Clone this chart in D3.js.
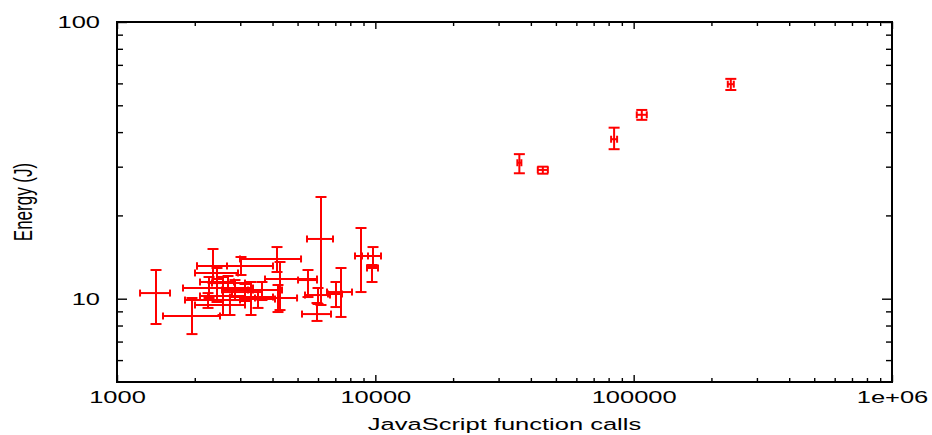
<!DOCTYPE html>
<html><head><meta charset="utf-8">
<script src="https://cdn.jsdelivr.net/npm/d3@7"></script>
<style>
body{margin:0;background:#fff}
svg{display:block}
text{font-family:"Liberation Sans",Arial,Helvetica,sans-serif}
</style>
</head><body>
<svg id="c" width="932" height="435"></svg>
<script>
// ---- data ----
const calls      = [1416,1951,2353,4163,2438,3020,2271,2572,3302,4276,4200,6161,5487,6000,5946,7364,7042,8801,9795,9708,2251,2737,3130,3514,3641,2862,2690,2438,36100,44500,84000,107500,237700];
const callsLow   = [1228,1507,2040,2993,2004,2040,1801,2096,2737,3740,3421,5438,5021,5342,5202,6500,6559,8342,8880,9285,1833,2004,2787,2993,3215,2550,2332,2096,35460,42550,81790,102800,231400];
const callsHigh  = [1604,2504,2666,5157,2940,4017,3361,3130,4017,5946,4977,6858,5946,6676,6736,8122,7430,9368,10517,10240,2993,3130,3641,4089,4353,3361,3130,2837,36750,46540,86270,112400,244100];
const energy     = [10.48,8.66,13.13,13.92,12.39,13.13,10.93,10.23,10.14,11.78,10.06,16.44,11.68,10.31,8.80,10.57,10.40,14.27,14.27,12.91,9.89,9.49,10.57,9.97,10.75,10.75,11.39,11.49,31.0,29.2,37.7,46.2,59.6];
const energyLow  = [8.10,7.45,11.39,12.49,11.39,12.18,10.06,8.73,8.73,9.10,8.95,9.49,10.14,9.57,8.31,8.59,9.33,10.57,13.02,11.49,9.26,8.73,9.81,9.26,9.89,9.89,10.57,9.73,28.4,28.3,34.7,44.3,56.8];
const energyHigh = [12.70,10.06,15.12,15.37,12.91,14.15,11.98,11.98,11.49,13.57,11.21,23.31,12.70,10.93,9.65,12.91,11.49,18.01,15.37,13.24,10.48,10.23,11.30,10.75,11.49,11.68,12.08,11.78,33.3,30.0,41.5,48.1,62.3];

const xTickValues = [1000,10000,100000,1000000];
const xTickLabels = ["1000","10000","100000","1e+06"];
const yTickValues = [10,100];
const yTickLabels = ["10","100"];
const xTitle = "JavaScript function calls";
const yTitle = "Energy (J)";

// ---- layout ----
const L=117, R=892, T=22, B=382, SX=1.5, FS=17;
const x = d3.scaleLog().domain([1000,1e6]).range([L,R]);
const y = d3.scaleLog().domain([5,100]).range([B,T]);
const svg = d3.select("#c");

const minorX = [];
[1000,10000,100000].forEach(d=>{for(let k=2;k<=9;k++) minorX.push(d*k);});
const minorY = [6,7,8,9,20,30,40,50,60,70,80,90];

function clean(g){
  g.select(".domain").remove();
  g.selectAll(".tick line").attr("stroke","#000").attr("stroke-width",1.4);
}

// bottom
svg.append("g").attr("transform",`translate(0,${B})`)
  .call(d3.axisBottom(x).tickValues(xTickValues).tickSize(-7).tickFormat((d,i)=>xTickLabels[i]))
  .call(clean)
  .call(g=>g.selectAll("text").attr("y",21).attr("dy",null).attr("font-size",FS)
    .attr("font-family","Liberation Sans, Arial, sans-serif").attr("fill","#000")
    .attr("transform",`scale(${SX},1)`));
svg.append("g").attr("transform",`translate(0,${B})`)
  .call(d3.axisBottom(x).tickValues(minorX).tickSize(-4).tickFormat(""))
  .call(clean);
// top
svg.append("g").attr("transform",`translate(0,${T})`)
  .call(d3.axisTop(x).tickValues(xTickValues).tickSize(-7).tickFormat(""))
  .call(clean);
svg.append("g").attr("transform",`translate(0,${T})`)
  .call(d3.axisTop(x).tickValues(minorX).tickSize(-4).tickFormat(""))
  .call(clean);
// left
svg.append("g").attr("transform",`translate(${L},0)`)
  .call(d3.axisLeft(y).tickValues(yTickValues).tickSize(-10).tickFormat((d,i)=>yTickLabels[i]))
  .call(clean)
  .call(g=>g.selectAll("text").attr("x",0).attr("dy",null).attr("font-size",FS)
    .attr("font-family","Liberation Sans, Arial, sans-serif").attr("fill","#000")
    .attr("text-anchor","end").attr("dominant-baseline","central")
    .attr("transform",`translate(-17,0) scale(${SX},1)`));
svg.append("g").attr("transform",`translate(${L},0)`)
  .call(d3.axisLeft(y).tickValues(minorY).tickSize(-6).tickFormat(""))
  .call(clean);
// right
svg.append("g").attr("transform",`translate(${R},0)`)
  .call(d3.axisRight(y).tickValues(yTickValues).tickSize(-10).tickFormat(""))
  .call(clean);
svg.append("g").attr("transform",`translate(${R},0)`)
  .call(d3.axisRight(y).tickValues(minorY).tickSize(-6).tickFormat(""))
  .call(clean);

// frame
svg.append("rect").attr("x",L).attr("y",T).attr("width",R-L).attr("height",B-T)
  .attr("fill","none").attr("stroke","#000").attr("stroke-width",2);

// titles
svg.append("text").attr("transform",`translate(${(L+R)/2},430) scale(${SX},1)`)
  .attr("text-anchor","middle").attr("font-size",FS).attr("fill","#000").text(xTitle);
svg.append("text").attr("transform",`translate(23,${(T+B)/2}) scale(${SX},1) rotate(-90)`)
  .attr("text-anchor","middle").attr("dominant-baseline","central").attr("font-size",FS).attr("fill","#000").text(yTitle);

// error bars
const idx = d3.range(calls.length);
const capX = 3.5, capY = 5.5;
const gp = svg.append("g").attr("stroke","#ff0000").attr("stroke-width",2).attr("fill","none");
idx.forEach(i=>{
  const cx=x(calls[i]), cy=y(energy[i]);
  const x0=x(callsLow[i]), x1=x(callsHigh[i]);
  const y0=y(energyLow[i]), y1=y(energyHigh[i]);
  const g = gp.append("g");
  g.append("line").attr("x1",x0).attr("x2",x1).attr("y1",cy).attr("y2",cy);
  g.append("line").attr("x1",x0).attr("x2",x0).attr("y1",cy-capX).attr("y2",cy+capX);
  g.append("line").attr("x1",x1).attr("x2",x1).attr("y1",cy-capX).attr("y2",cy+capX);
  g.append("line").attr("x1",cx).attr("x2",cx).attr("y1",y0).attr("y2",y1);
  g.append("line").attr("x1",cx-capY).attr("x2",cx+capY).attr("y1",y0).attr("y2",y0);
  g.append("line").attr("x1",cx-capY).attr("x2",cx+capY).attr("y1",y1).attr("y2",y1);
});
</script>
</body></html>
